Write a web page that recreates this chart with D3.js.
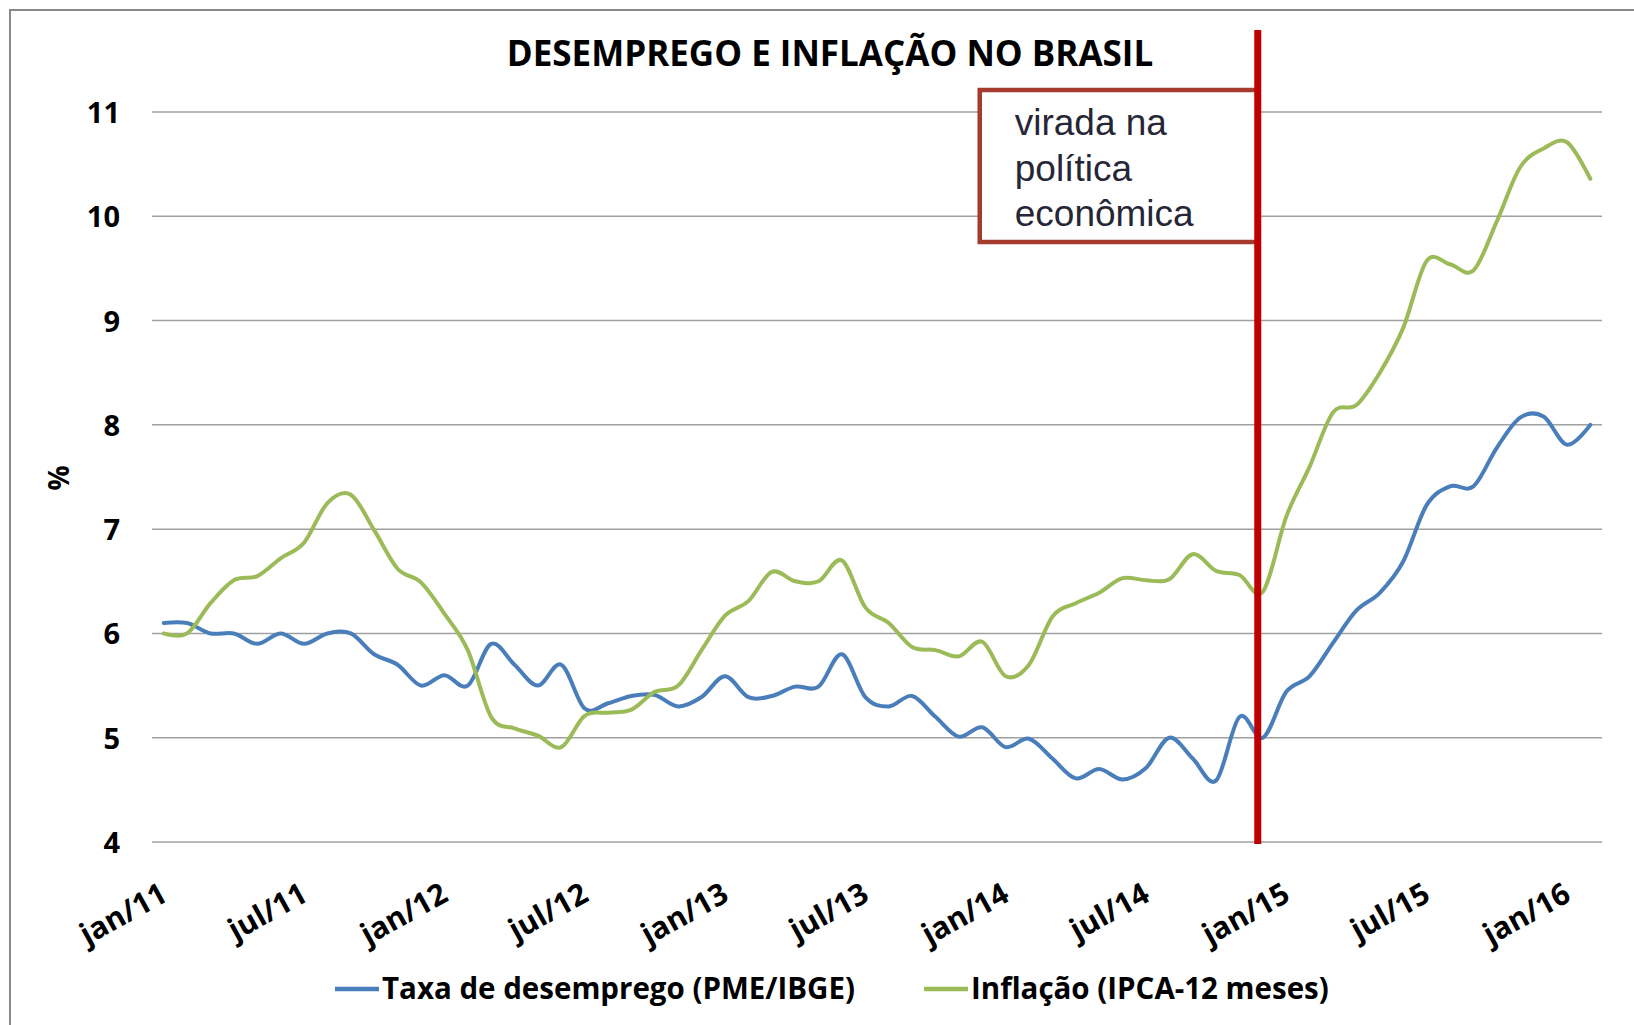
<!DOCTYPE html>
<html>
<head>
<meta charset="utf-8">
<script src="https://cdn.jsdelivr.net/npm/d3@7"></script>
<style>
  body { margin: 0; background: white; }
</style>
</head>
<body>
<div id="chart"></div>
<script>
// Month labels jan/11 ... fev/16
const monthNames = ['jan','fev','mar','abr','mai','jun','jul','ago','set','out','nov','dez'];
const years = ['11','12','13','14','15','16'];
const months = [];
years.forEach(y => monthNames.forEach(m => months.push(m + '/' + y)));
months.splice(62);

// Ticks shown on the x axis
const xTicks = ['jan/11','jul/11','jan/12','jul/12','jan/13','jul/13','jan/14','jul/14','jan/15','jul/15','jan/16'];
const yTicks = [4, 5, 6, 7, 8, 9, 10, 11];

// Taxa de desemprego (PME/IBGE)
const desemprego = [
  6.10, 6.10, 6.00, 6.00, 5.90, 6.00, 5.90, 6.00, 6.00, 5.80, 5.70, 5.50,
  5.60, 5.50, 5.90, 5.70, 5.50, 5.70, 5.28, 5.33, 5.40, 5.41, 5.30, 5.39,
  5.59, 5.39, 5.40, 5.49, 5.49, 5.80, 5.39, 5.30, 5.40, 5.20, 5.01, 5.10,
  4.91, 4.99, 4.80, 4.61, 4.70, 4.60, 4.71, 5.00, 4.80, 4.59, 5.20, 5.00,
  5.44, 5.59, 5.91, 6.22, 6.39, 6.69, 7.23, 7.41, 7.41, 7.78, 8.07, 8.08,
  7.81, 8.00
];

// Inflação (IPCA-12 meses)
const inflacao = [
  6.00, 6.00, 6.29, 6.51, 6.55, 6.72, 6.87, 7.25, 7.33, 6.99, 6.62, 6.49,
  6.19, 5.84, 5.20, 5.09, 5.02, 4.91, 5.21, 5.24, 5.27, 5.44, 5.50, 5.84,
  6.17, 6.31, 6.59, 6.50, 6.50, 6.70, 6.25, 6.10, 5.87, 5.84, 5.78, 5.92,
  5.59, 5.70, 6.16, 6.29, 6.39, 6.53, 6.51, 6.52, 6.76, 6.60, 6.56, 6.40,
  7.12, 7.60, 8.12, 8.19, 8.50, 8.93, 9.57, 9.54, 9.48, 9.95, 10.47, 10.65,
  10.71, 10.36
];

const seriesNames = ['Taxa de desemprego (PME/IBGE)', 'Inflação (IPCA-12 meses)'];
const seriesColors = ['#4A7EBB', '#9BBB59'];

// Annotation: policy turn between nov/14 and dez/14
const turnMonth = 'nov/14';
const turnOffset = 0.78;
const noteLines = ['virada na', 'política', 'econômica'];

let width = 1634, height = 1025;
let margin = { top: 112, bottom: 183, left: 152, right: 32 };

let svg = d3.select('#chart')
  .append('svg')
  .attr('width', width)
  .attr('height', height)
  .style('background', 'white');

// outer frame
svg.append('rect')
  .attr('x', 10)
  .attr('y', 10)
  .attr('width', width + 50)
  .attr('height', height + 50)
  .attr('fill', 'none')
  .attr('stroke', '#898989')
  .attr('stroke-width', 2);

// Scales
let xScale = d3.scalePoint()
  .domain(months)
  .range([margin.left, width - margin.right])
  .padding(0.5);

let yScale = d3.scaleLinear()
  .domain([4, 11])
  .range([height - margin.bottom, margin.top]);

// Gridlines
svg.append('g')
  .selectAll('line')
  .data(yTicks)
  .enter()
  .append('line')
  .attr('x1', margin.left)
  .attr('x2', width - margin.right)
  .attr('y1', d => yScale(d))
  .attr('y2', d => yScale(d))
  .attr('stroke', '#a0a0a0')
  .attr('stroke-width', 1.5);

// Y axis labels
let yaxis = svg.append('g')
  .attr('transform', `translate(${margin.left - 32},0)`)
  .call(d3.axisLeft(yScale).tickValues(yTicks).tickFormat(d3.format('d')).tickSize(0).tickPadding(0));
yaxis.select('.domain').remove();
yaxis.selectAll('text')
  .attr('dy', '0.36em')
  .style('font-family', 'Open Sans')
  .style('font-weight', 'bold')
  .style('font-size', '29px')
  .attr('fill', '#000');

// X axis labels, rotated
let xaxis = svg.append('g')
  .attr('transform', `translate(0,${height - margin.bottom})`)
  .call(d3.axisBottom(xScale).tickValues(xTicks).tickSize(0).tickPadding(0));
xaxis.select('.domain').remove();
xaxis.selectAll('text')
  .style('font-family', 'Open Sans')
  .style('font-weight', 'bold')
  .style('font-size', '30px')
  .style('text-anchor', 'end')
  .attr('fill', '#000')
  .attr('dy', 0)
  .attr('y', 0)
  .attr('transform', 'translate(5,58) rotate(-29)');

// y axis title
svg.append('text')
  .text('%')
  .attr('transform', 'translate(69,478) rotate(-90)')
  .attr('text-anchor', 'middle')
  .style('font-family', 'Open Sans')
  .style('font-weight', 'bold')
  .style('font-size', '28px');

// Chart title
svg.append('text')
  .text('DESEMPREGO E INFLAÇÃO NO BRASIL')
  .attr('x', 830)
  .attr('y', 66)
  .attr('text-anchor', 'middle')
  .style('font-family', 'Open Sans')
  .style('font-weight', 'bold')
  .style('font-size', '35px');

// Lines, smoothed like the spreadsheet chart
const line = d3.line()
  .x((d, i) => xScale(months[i]))
  .y(d => yScale(d))
  .curve(d3.curveCardinal.tension(0));

[desemprego, inflacao].forEach((values, k) => {
  svg.append('path')
    .datum(values)
    .attr('d', line)
    .attr('fill', 'none')
    .attr('stroke', seriesColors[k])
    .attr('stroke-width', 4)
    .attr('stroke-linejoin', 'round')
    .attr('stroke-linecap', 'round');
});

// Annotation box + red vertical line
const turnX = xScale(turnMonth) + turnOffset * xScale.step();

const note = svg.append('g');
note.append('rect')
  .attr('x', turnX - 278)
  .attr('y', 90)
  .attr('width', 278)
  .attr('height', 152)
  .attr('fill', 'white')
  .attr('stroke', '#A43B2C')
  .attr('stroke-width', 4.5);

noteLines.forEach((t, i) => {
  note.append('text')
    .text(t)
    .attr('x', turnX - 243)
    .attr('y', 135 + i * 45.5)
    .attr('fill', '#262636')
    .style('font-family', 'Liberation Sans, Arial')
    .style('font-size', '37px');
});

svg.append('line')
  .attr('x1', turnX)
  .attr('x2', turnX)
  .attr('y1', 30)
  .attr('y2', yScale(4) + 2)
  .attr('stroke', '#C00000')
  .attr('stroke-width', 7);

// Legend
const legendX = [335, 924];
seriesNames.forEach((name, k) => {
  svg.append('line')
    .attr('x1', legendX[k])
    .attr('x2', legendX[k] + 44)
    .attr('y1', 989)
    .attr('y2', 989)
    .attr('stroke', seriesColors[k])
    .attr('stroke-width', 4.5);

  svg.append('text')
    .text(name)
    .attr('x', legendX[k] + 47)
    .attr('y', 999)
    .style('font-family', 'Open Sans')
    .style('font-weight', 'bold')
    .style('font-size', '29.5px');
});
</script>
</body>
</html>
